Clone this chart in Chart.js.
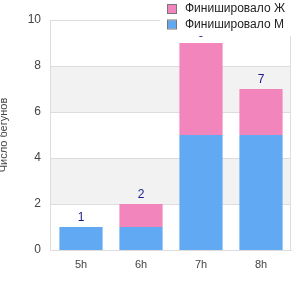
<!DOCTYPE html>
<html>
<head>
<meta charset="utf-8">
<script src="https://cdn.jsdelivr.net/npm/chart.js@4"></script>
<style>
  body { margin: 0; background: #fff; }
</style>
</head>
<body>
<canvas id="myChart" width="300" height="300"></canvas>
<script>
const categories = ['5h', '6h', '7h', '8h'];
const finishedM = [1, 1, 5, 5];
const finishedF = [0, 1, 4, 2];
const seriesNames = ['Финишировало М', 'Финишировало Ж'];
const yTicks = [0, 2, 4, 6, 8, 10];

const FONT = 'Arial, "Liberation Sans", sans-serif';

// striped background bands, grid lines, side borders
const bands = {
  id: 'bands',
  beforeDatasetsDraw(chart) {
    const { ctx, chartArea: a, scales: { y } } = chart;
    const L = Math.round(a.left) - 1;
    ctx.save();
    ctx.fillStyle = '#f2f2f2';
    [[2, 4], [6, 8]].forEach(([lo, hi]) => {
      const t = y.getPixelForValue(hi), b = y.getPixelForValue(lo);
      ctx.fillRect(L, t, a.right - L, b - t);
    });
    ctx.strokeStyle = '#dddddd';
    ctx.lineWidth = 1;
    yTicks.forEach(v => {
      const p = Math.round(y.getPixelForValue(v)) + 0.5;
      ctx.beginPath(); ctx.moveTo(L, p); ctx.lineTo(a.right, p); ctx.stroke();
    });
    ctx.beginPath();
    ctx.moveTo(Math.round(a.right) - 0.5, a.top);
    ctx.lineTo(Math.round(a.right) - 0.5, a.bottom);
    ctx.moveTo(L + 0.5, a.top);
    ctx.lineTo(L + 0.5, a.bottom);
    ctx.stroke();
    ctx.restore();
  }
};

// totals above the stacks
const totals = {
  id: 'totals',
  afterDatasetsDraw(chart) {
    const { ctx, scales: { y } } = chart;
    const meta = chart.getDatasetMeta(0);
    ctx.save();
    ctx.fillStyle = '#1a1a8c';
    ctx.font = '12px ' + FONT;
    ctx.textAlign = 'center';
    ctx.textBaseline = 'bottom';
    categories.forEach((c, i) => {
      const sum = finishedF[i] + finishedM[i];
      ctx.fillText(String(sum), meta.data[i].x, y.getPixelForValue(sum) - 3);
    });
    ctx.restore();
  }
};

// legend in the top-right corner, over the plot (top series first)
const legendBox = {
  id: 'legendBox',
  afterDraw(chart) {
    const { ctx } = chart;
    ctx.save();
    ctx.fillStyle = '#fff';
    ctx.fillRect(160, 0, 131, 36);
    ctx.font = '12px ' + FONT;
    ctx.textBaseline = 'middle';
    chart.data.datasets.slice().reverse().forEach((ds, i) => {
      const yy = 9 + i * 15.5;
      ctx.fillStyle = ds.backgroundColor;
      ctx.fillRect(168, yy - 4, 8, 8);
      ctx.strokeStyle = '#777';
      ctx.lineWidth = 1;
      ctx.strokeRect(167.5, yy - 4.5, 9, 9);
      ctx.fillStyle = '#222';
      ctx.fillText(ds.label, 185, yy);
    });
    ctx.restore();
  }
};

const data = {
  labels: categories,
  datasets: [
    {
      label: seriesNames[0],
      data: finishedM,
      backgroundColor: '#61a9f2',
      stack: 's'
    },
    {
      label: seriesNames[1],
      data: finishedF,
      backgroundColor: '#f285bb',
      stack: 's'
    }
  ]
};

const config = {
  type: 'bar',
  data,
  options: {
    responsive: false,
    animation: false,
    layout: { padding: { top: 20, right: 9, left: 0, bottom: 0 } },
    datasets: { bar: { categoryPercentage: 1, barPercentage: 0.72 } },
    plugins: {
      legend: { display: false },
      tooltip: { enabled: false }
    },
    scales: {
      x: {
        stacked: true,
        grid: { display: false, drawTicks: false },
        border: { display: true, color: '#dddddd' },
        ticks: { color: '#444', font: { family: FONT, size: 11 }, padding: 8 },
        afterFit(scale) { scale.height = 50; }
      },
      y: {
        stacked: true,
        min: 0,
        max: 10,
        grid: { display: false, drawTicks: false },
        border: { display: false },
        ticks: { stepSize: 2, color: '#444', font: { family: FONT, size: 12 }, padding: 10 },
        title: {
          display: true,
          text: 'Число бегунов',
          color: '#444',
          font: { family: FONT, size: 11 },
          padding: { top: -3, bottom: 0 }
        },
        afterFit(scale) { scale.width = 51; }
      }
    }
  },
  plugins: [bands, totals, legendBox]
};

const myChart = new Chart(document.getElementById('myChart'), config);
</script>
</body>
</html>
